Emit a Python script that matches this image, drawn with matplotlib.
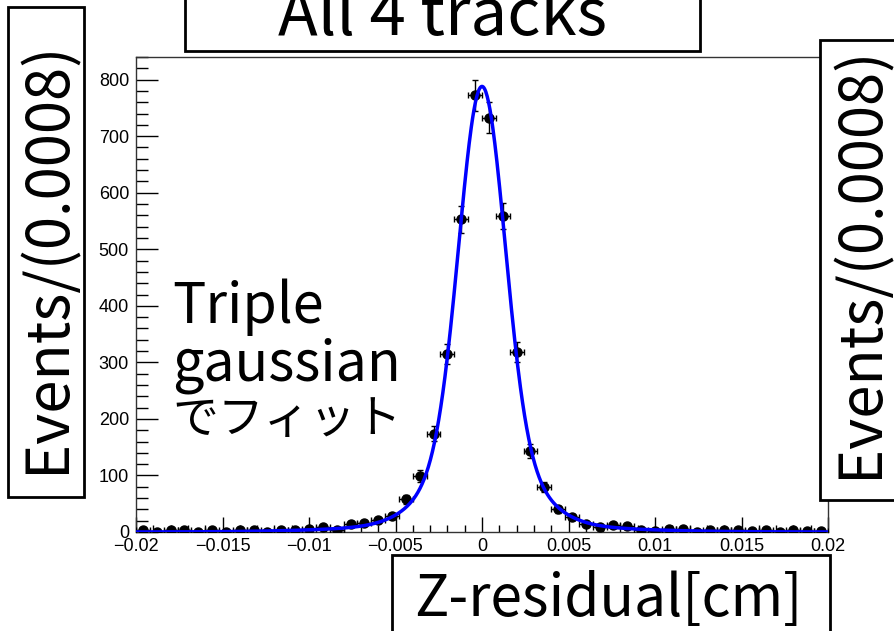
import numpy as np
import matplotlib.pyplot as plt
from matplotlib.patches import Rectangle
from matplotlib.ticker import MultipleLocator, FuncFormatter

plt.rcParams['font.family'] = ['Liberation Sans', 'DejaVu Sans']
BIG_FONT = ['Noto Sans CJK JP', 'DejaVu Sans']

# histogram binning (Events / 0.0008)
x_lo, x_hi, n_bins = -0.02, 0.02, 50

# counts per bin
counts = [3, 0, 3, 3, 0, 3, 0, 3, 3, 0,
          3, 3, 6, 8, 3, 15, 16, 21, 28, 58,
          99, 174, 315, 553, 772, 733, 559, 319, 143, 80,
          40, 27, 14, 9, 13, 10, 3, 2, 6, 6,
          0, 3, 3, 3, 1, 4, 0, 3, 1, 2]

# triple gaussian fit parameters
fit_mean = 0.0
fit_amp = [632, 141, 15]
fit_sigma = [0.0013, 0.0025, 0.006]

W, H = 894, 631
fig = plt.figure(figsize=(W / 100, H / 100), dpi=100)


def px(x, y):
    return x / W, 1 - y / H


l, t = px(136, 57)
r, b = px(828, 532)
ax = fig.add_axes([l, b, r - l, t - b])

edges = np.linspace(x_lo, x_hi, n_bins + 1)
centers = 0.5 * (edges[1:] + edges[:-1])
counts = np.array(counts, dtype=float)
yerr = np.sqrt(counts)
xerr = 0.5 * (edges[1] - edges[0])

ax.errorbar(centers, counts, xerr=xerr, yerr=yerr, fmt='o', color='black',
            ms=6.5, elinewidth=1, capsize=2, capthick=1, zorder=3)

xs = np.linspace(x_lo, x_hi, 1000)
fit = np.zeros_like(xs)
for a, s in zip(fit_amp, fit_sigma):
    fit += a * np.exp(-0.5 * ((xs - fit_mean) / s) ** 2)
ax.plot(xs, fit, color='blue', lw=2.5, zorder=4)

ax.set_xlim(x_lo, x_hi)
ax.set_ylim(0, 840)
ax.xaxis.set_major_locator(MultipleLocator(0.005))
ax.xaxis.set_minor_locator(MultipleLocator(0.001))
ax.yaxis.set_major_locator(MultipleLocator(100))
ax.yaxis.set_minor_locator(MultipleLocator(20))
ax.xaxis.set_major_formatter(FuncFormatter(lambda v, p: ('%g' % round(v, 4)).replace('-', '\u2212')))
ax.tick_params(direction='in', which='both', top=False, right=False,
               labelsize=13, colors='black')
ax.tick_params(axis='y', which='major', length=15.5, width=1, pad=5)
ax.tick_params(axis='y', which='minor', length=8.5, width=1)
ax.tick_params(axis='x', which='major', length=10.5, width=1, pad=4)
ax.tick_params(axis='x', which='minor', length=5, width=1)
for sp in ax.spines.values():
    sp.set_linewidth(1)
    sp.set_color('#333333')


def box(x0, y0, x1, y1):
    fx0, fy1 = px(x0, y0)
    fx1, fy0 = px(x1, y1)
    fig.patches.append(Rectangle((fx0, fy0), fx1 - fx0, fy1 - fy0,
                                 transform=fig.transFigure, facecolor='white',
                                 edgecolor='black', lw=2, zorder=5))


box(185, -10, 700, 51)
fig.text(*px(442, 35), 'All 4 tracks', ha='center', va='baseline',
         fontsize=47, family=BIG_FONT, zorder=6)

box(392, 555, 830, 650)
fig.text(*px(608, 616), 'Z-residual[cm]', ha='center', va='baseline',
         fontsize=41, family=BIG_FONT, zorder=6)

box(8, 7, 84, 497)
fig.text(*px(48, 257), 'Events/(0.0008)', ha='center', va='center',
         rotation=90, fontsize=43, family=BIG_FONT, zorder=6)

box(820, 40, 910, 500)
fig.text(*px(861, 262), 'Events/(0.0008)', ha='center', va='center',
         rotation=90, fontsize=43, family=BIG_FONT, zorder=6)

for txt, yb, fs in [('Triple', 323, 40), ('gaussian', 380, 40), ('でフィット', 433, 33)]:
    fig.text(*px(172, yb), txt, ha='left', va='baseline',
             fontsize=fs, family=BIG_FONT, zorder=6)

fig.savefig('out.png', dpi=100)
